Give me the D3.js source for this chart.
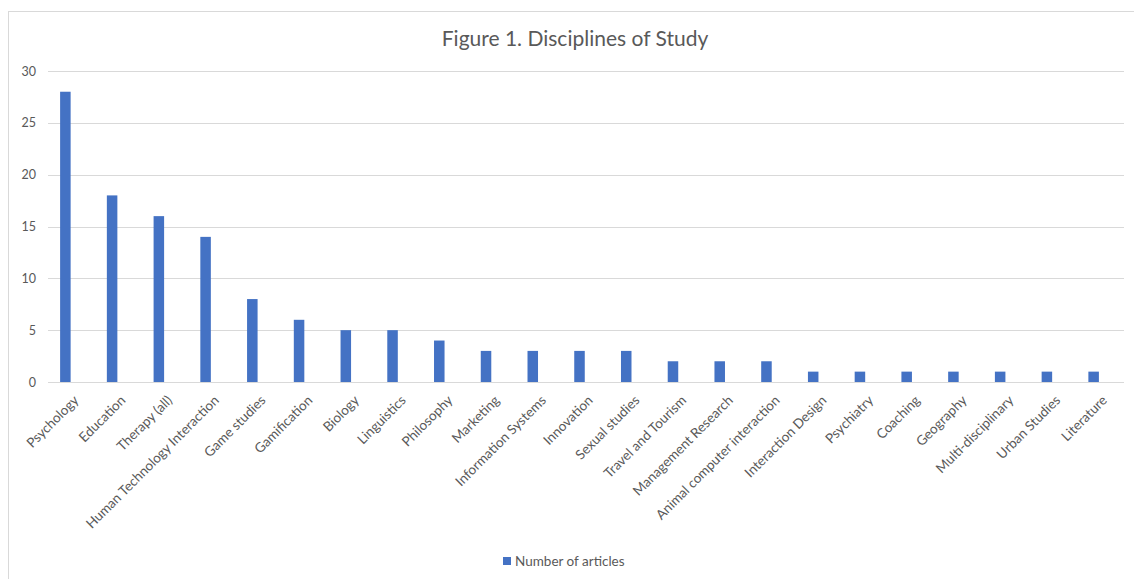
<!DOCTYPE html>
<html>
<head>
<meta charset="utf-8">
<script src="https://cdn.jsdelivr.net/npm/d3@7"></script>
<style>
  html, body { margin: 0; padding: 0; background: #fff; }
  svg { display: block; font-family: Lato, "Open Sans", sans-serif; }
</style>
</head>
<body>
<div id="chart"></div>
<script>
// data
var disciplines = ["Psychology", "Education", "Therapy (all)", "Human Technology Interaction",
  "Game studies", "Gamification", "Biology", "Linguistics", "Philosophy", "Marketing",
  "Information Systems", "Innovation", "Sexual studies", "Travel and Tourism",
  "Management Research", "Animal computer interaction", "Interaction Design", "Psychiatry",
  "Coaching", "Geography", "Multi-disciplinary", "Urban Studies", "Literature"];
var articles = [28, 18, 16, 14, 8, 6, 5, 5, 4, 3, 3, 3, 3, 2, 2, 2, 1, 1, 1, 1, 1, 1, 1];
var yTicks = [0, 5, 10, 15, 20, 25, 30];
var seriesName = "Number of articles";
var chartTitle = "Figure 1. Disciplines of Study";

var width = 1134, height = 579;
var gridLeft = 48, gridRight = 1124;
var barColor = "#4472c4", gridColor = "#d9d9d9", textColor = "#595959";

var svg = d3.select("#chart").append("svg")
    .attr("width", width)
    .attr("height", height);

// chart area border (runs off right and bottom edges like the screenshot)
svg.append("rect")
    .attr("x", 8.5).attr("y", 11.5)
    .attr("width", width).attr("height", height)
    .attr("fill", "none")
    .attr("stroke", gridColor);

var x = d3.scaleBand()
    .domain(disciplines)
    .range([42, 1117])
    .paddingInner(0.775)
    .paddingOuter(0.3875);

var y = d3.scaleLinear()
    .domain([0, 30])
    .range([382, 71]);

// gridlines
svg.append("g")
    .selectAll("line")
    .data(yTicks)
    .join("line")
    .attr("x1", gridLeft).attr("x2", gridRight)
    .attr("y1", function(d) { return Math.round(y(d)) + 0.5; })
    .attr("y2", function(d) { return Math.round(y(d)) + 0.5; })
    .attr("stroke", gridColor)
    .attr("stroke-width", 1);

// y axis labels
var yAxis = d3.axisLeft(y).tickValues(yTicks).tickSize(0).tickPadding(0);
svg.append("g")
    .attr("transform", "translate(36,0)")
    .call(yAxis)
    .call(function(g) { g.select(".domain").remove(); })
    .selectAll("text")
    .attr("fill", textColor)
    .style("font-size", "12.5px")
    .style("font-family", "Lato, sans-serif");

// bars
svg.append("g")
    .selectAll("rect")
    .data(articles)
    .join("rect")
    .attr("x", function(d, i) { return x(disciplines[i]); })
    .attr("width", x.bandwidth())
    .attr("y", function(d) { return y(d); })
    .attr("height", function(d) { return y(0) - y(d); })
    .attr("fill", barColor);

// rotated category labels
var xAxis = d3.axisBottom(x).tickSize(0).tickPadding(0);
var xg = svg.append("g")
    .attr("transform", "translate(0,382)")
    .call(xAxis);
xg.select(".domain").remove();
xg.selectAll(".tick text")
    .attr("fill", textColor)
    .style("font-size", "13.5px")
    .style("font-family", "Lato, sans-serif")
    .attr("text-anchor", "end")
    .attr("dy", "0.75em")
    .attr("y", 0)
    .attr("transform", "translate(7,12) rotate(-45)");

// title
svg.append("text")
    .attr("x", 575).attr("y", 46)
    .attr("text-anchor", "middle")
    .attr("fill", textColor)
    .style("font-size", "21px")
    .text(chartTitle);

// legend
var legend = svg.append("g").attr("transform", "translate(503,557)");
legend.append("rect")
    .attr("width", 8).attr("height", 8)
    .attr("fill", barColor);
legend.append("text")
    .attr("x", 12).attr("y", 4)
    .attr("dy", "0.35em")
    .attr("fill", textColor)
    .style("font-size", "13.5px")
    .text(seriesName);
</script>
</body>
</html>
